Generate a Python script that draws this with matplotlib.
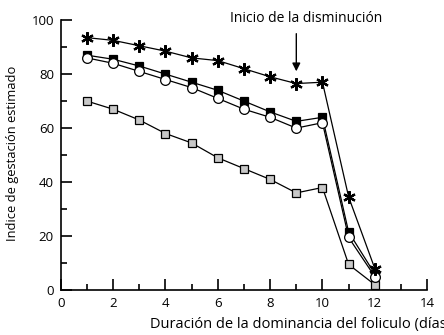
import matplotlib
matplotlib.use("Agg")
import matplotlib.pyplot as plt
from matplotlib.ticker import MultipleLocator

days = [1, 2, 3, 4, 5, 6, 7, 8, 9, 10, 11, 12]
stars = [93.5, 92.5, 90.5, 88.5, 86, 85, 82, 79, 76.5, 77, 34.5, 8]
black_sq = [87, 85.5, 83, 80, 77, 74, 70, 66, 62.5, 64, 21.5, 6]
open_circ = [86, 84, 81, 78, 75, 71, 67, 64, 60, 62, 19.5, 5]
gray_sq = [70, 67, 63, 58, 54.5, 49, 45, 41, 36, 38, 9.5, 2]

plt.rcParams['font.family'] = ['Open Sans', 'DejaVu Sans']
fig = plt.figure(figsize=(4.44, 3.35), dpi=100)
ax = fig.add_axes([0.137, 0.134, 0.825, 0.806])

ax.plot(days, gray_sq, '-s', color='black', lw=0.9, ms=6, mfc='#c8c8c8', mec='black', mew=0.9)
ax.plot(days, black_sq, '-s', color='black', lw=0.9, ms=6, mfc='black', mec='black', mew=0.9)
ax.plot(days, open_circ, '-o', color='black', lw=0.9, ms=7, mfc='white', mec='black', mew=0.9)
ax.plot(days, stars, '-', color='black', lw=0.9)
ax.plot(days, stars, ls='none', marker=(6, 2, 0), ms=9, mec='black', mew=1.6)

ax.set_xlim(0, 14)
ax.set_ylim(0, 100)
ax.xaxis.set_major_locator(MultipleLocator(2))
ax.xaxis.set_minor_locator(MultipleLocator(1))
ax.yaxis.set_major_locator(MultipleLocator(20))
ax.yaxis.set_minor_locator(MultipleLocator(10))
ax.tick_params(which='major', direction='in', length=8, width=1.2, labelsize=9.5, pad=5)
ax.tick_params(which='minor', direction='in', length=4.5, width=1.2)
ax.spines['top'].set_visible(False)
ax.spines['right'].set_visible(False)
ax.spines['left'].set_linewidth(1.2)
ax.spines['bottom'].set_linewidth(1.2)

fig.text(0.029, 0.543, 'Indice de gestación estimado', fontsize=9.3, rotation=90,
         ha='center', va='center')
fig.text(0.338, 0.030, 'Duración de la dominancia del foliculo (días)', fontsize=10.5,
         ha='left', va='center')

ax.annotate('', xy=(9, 80), xytext=(9, 96),
            arrowprops=dict(arrowstyle='-|>', color='black', lw=1.0, mutation_scale=12))
fig.text(0.69, 0.946, 'Inicio de la disminución', fontsize=10, ha='center', va='center')

fig.savefig('out.png', dpi=100)
